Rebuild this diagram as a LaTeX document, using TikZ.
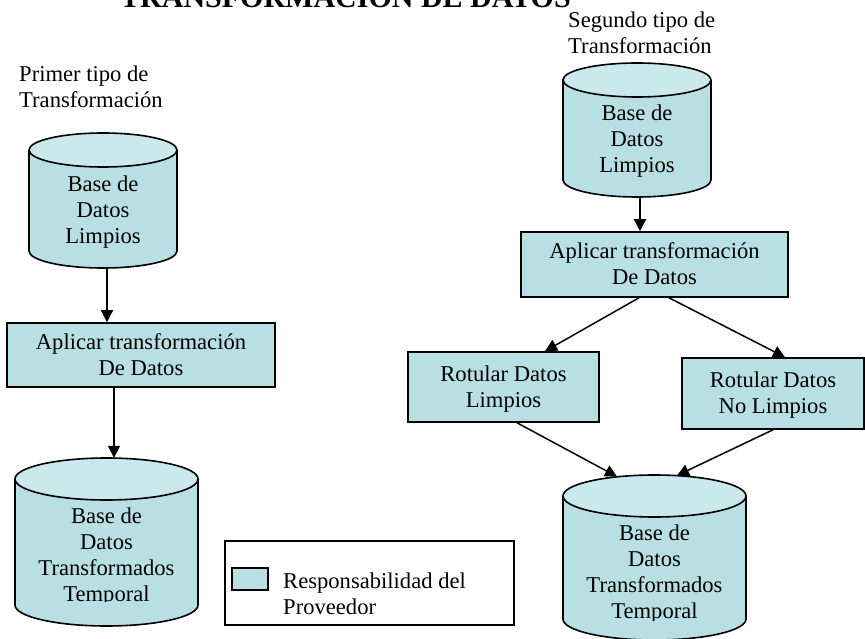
\documentclass[tikz,border=0pt]{standalone}
\usepackage{fontspec}
\setmainfont{Liberation Serif}
\usetikzlibrary{arrows.meta,calc}
\definecolor{bodyc}{RGB}{184,223,227}
\definecolor{topc}{RGB}{203,232,236}
\newcommand\ls{\rule[-6pt]{0pt}{26pt}}
% name, cx, y of top-ellipse centre, y of bottom-ellipse centre, rx, ry
\newcommand\dbcyl[6]{%
  \fill[bodyc] ({#2-#5},#3) -- ({#2-#5},#4) arc[start angle=180,end angle=360,x radius=#5pt,y radius=#6pt] -- ({#2+#5},#3) -- cycle;
  \draw[outl] ({#2-#5},#3) -- ({#2-#5},#4) arc[start angle=180,end angle=360,x radius=#5pt,y radius=#6pt] -- ({#2+#5},#3);
  \filldraw[outl,fill=topc] (#2,#3) ellipse[x radius=#5pt, y radius=#6pt];
  \node[inner sep=0pt, minimum width={2*#5pt}, minimum height={(#4-#3+2*#6)*1pt}] (#1) at (#2,{(#3+#4)/2}) {};
}
\tikzset{
  outl/.style={line width=1.6pt, draw=black},
  txt/.style={inner sep=0pt, align=center, font=\fontsize{22.6}{26}\selectfont},
  procbox/.style={draw=black, fill=bodyc, line width=1.6pt, inner sep=0pt, align=center, font=\fontsize{22.6}{26}\selectfont},
  arr/.style={line width=1.5pt, -{Triangle[length=12pt,width=12pt]}},
}
\begin{document}
\begin{tikzpicture}[x=1pt,y=-1pt]
\fill[white] (0,0) rectangle (865,639);
\useasboundingbox (0,0) rectangle (865,639);

% title and captions
\node[anchor=base west, inner sep=0pt, font=\fontsize{30}{34}\selectfont\bfseries] (title) at (120,8) {TRANSFORMACIÓN DE DATOS};
\node[txt, align=left, anchor=north west] (cap1) at (19,61) {\ls Primer tipo de\\\ls Transformación};
\node[txt, align=left, anchor=north west] (cap2) at (568,7) {\ls Segundo tipo de\\\ls Transformación};

% left chain
\dbcyl{C1}{103}{150}{251}{74}{17}
\node[txt, anchor=north] (C1t) at (103,171) {\ls Base de\\\ls Datos\\\ls Limpios};
\node[procbox, minimum width=268pt, minimum height=64pt] (B1) at (141,355) {\ls Aplicar transformación\\\ls De Datos};
\dbcyl{C2}{106.5}{479}{605}{91.5}{21}
\begin{scope}
  \clip (0,458) rectangle (865,601);
  \node[txt, anchor=north] (C2t) at (106.5,503) {\ls Base de\\\ls Datos\\\ls Transformados\\\ls Temporal};
\end{scope}
\draw[arr] ([xshift=4pt]C1.south) -- ([xshift=4pt]C1.south |- B1.north);
\draw[arr] ([xshift=-27pt]B1.south) -- ([xshift=-27pt]B1.south |- C2.north);

% right chain
\dbcyl{C3}{637}{80}{180}{74}{17}
\node[txt, anchor=north] (C3t) at (637,100) {\ls Base de\\\ls Datos\\\ls Limpios};
\node[procbox, minimum width=267pt, minimum height=65pt] (B2) at (654.5,264.5) {\ls Aplicar transformación\\\ls De Datos};
\node[procbox, minimum width=191pt, minimum height=70pt] (R1) at (503.5,387) {\ls Rotular Datos\\\ls Limpios};
\node[procbox, minimum width=182pt, minimum height=71pt] (R2) at (773,393.5) {\ls Rotular Datos\\\ls No Limpios};
\dbcyl{C4}{654.5}{496}{619}{91.5}{21}
\begin{scope}
  \clip (0,475) rectangle (865,620);
  \node[txt, anchor=north] (C4t) at (654.5,520) {\ls Base de\\\ls Datos\\\ls Transformados\\\ls Temporal};
\end{scope}
\draw[arr] ([xshift=3pt]C3.south) -- ([xshift=3pt]C3.south |- B2.north);
\draw[arr] ([xshift=-15.5pt]B2.south) -- ([xshift=41.5pt]R1.north);
\draw[arr] ([xshift=14.5pt]B2.south) -- ([xshift=12pt]R2.north);
\draw[arr] ([xshift=13.5pt]R1.south) -- ([xshift=-37.5pt,yshift=-1.8pt]C4.north);
\draw[arr] (R2.south) -- ([xshift=22.5pt,yshift=-0.7pt]C4.north);

% legend
\node[draw=black, line width=1.6pt, inner sep=0pt, minimum width=289pt, minimum height=84pt] (L) at (369.5,583) {};
\node[draw=black, fill=bodyc, line width=1.6pt, inner sep=0pt, minimum width=36pt, minimum height=22pt] (LS) at (250,579) {};
\node[txt, align=left, anchor=north west] (LT) at (283,568) {\ls Responsabilidad del\\\ls Proveedor};
\end{tikzpicture}
\end{document}
